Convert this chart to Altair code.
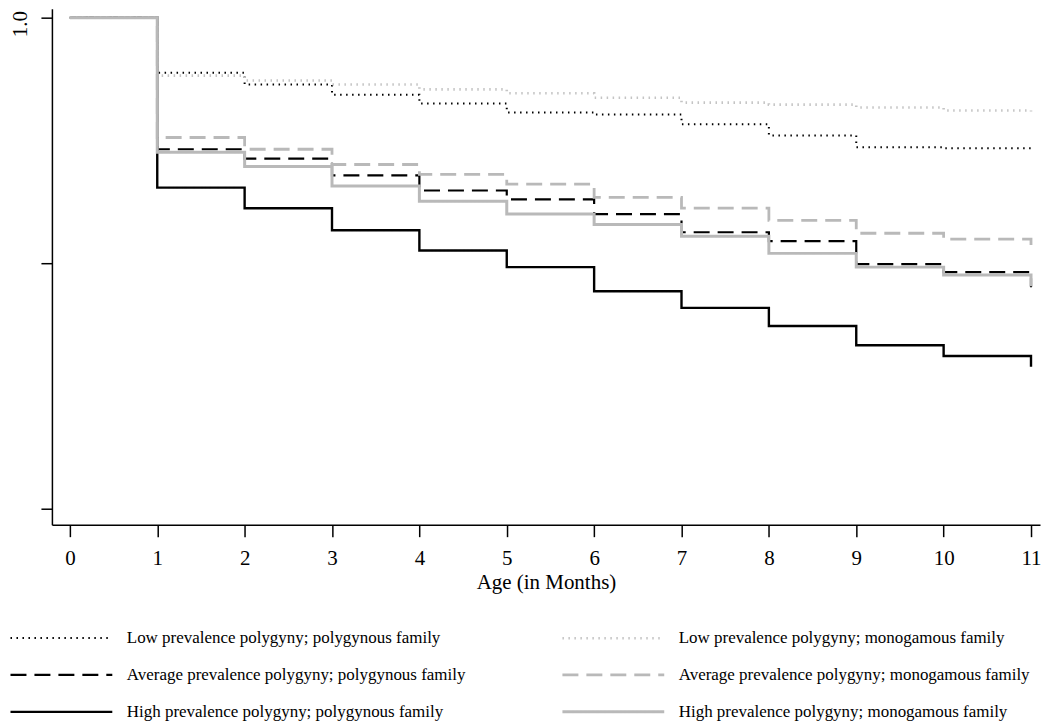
import altair as alt
import pandas as pd

months = list(range(12))

# legend order (column-major: polygynous column, then monogamous column)
series_names = [
    "Low prevalence polygyny; polygynous family",
    "Average prevalence polygyny; polygynous family",
    "High prevalence polygyny; polygynous family",
    "Low prevalence polygyny; monogamous family",
    "Average prevalence polygyny; monogamous family",
    "High prevalence polygyny; monogamous family",
]

low_poly = [1.0, 0.9888, 0.9864, 0.9843, 0.9825, 0.9807, 0.9803, 0.9783, 0.9760, 0.9736, 0.9734, 0.9730]
avg_poly = [1.0, 0.9732, 0.9713, 0.9679, 0.9648, 0.9630, 0.9600, 0.9563, 0.9545, 0.9498, 0.9482, 0.9451]
high_poly = [1.0, 0.9654, 0.9612, 0.9567, 0.9526, 0.9492, 0.9443, 0.9409, 0.9372, 0.9333, 0.9311, 0.9289]
low_mono = [1.0, 0.9882, 0.9872, 0.9864, 0.9854, 0.9846, 0.9837, 0.9827, 0.9823, 0.9817, 0.9811, 0.9809]
avg_mono = [1.0, 0.9756, 0.9732, 0.9701, 0.9681, 0.9661, 0.9634, 0.9612, 0.9587, 0.9561, 0.9549, 0.9537]
high_mono = [1.0, 0.9726, 0.9697, 0.9657, 0.9626, 0.9600, 0.9579, 0.9555, 0.9520, 0.9492, 0.9476, 0.9453]

# drawing order: black first, grey after, high/monogamous on top
draw_order = [
    (series_names[0], low_poly),
    (series_names[1], avg_poly),
    (series_names[2], high_poly),
    (series_names[3], low_mono),
    (series_names[4], avg_mono),
    (series_names[5], high_mono),
]

rows = []
for k, (name, vals) in enumerate(draw_order):
    for m, v in zip(months, vals):
        rows.append({"series": name, "month": m, "surv": v, "ord": k})
df = pd.DataFrame(rows)

colors = ["#000000", "#000000", "#000000", "#c4c4c4", "#b9b9b9", "#b9b9b9"]
dashes = [[1.5, 4.5], [16, 8], [1, 0], [1.5, 4.5], [16, 8], [1, 0]]
widths = [2.0, 3.0, 2.6, 2.0, 3.0, 2.6]

FONT = "Liberation Serif"

legend = alt.Legend(
    title=None,
    orient="none",
    legendX=-2,
    legendY=619,
    columns=2,
    symbolType="M-5.1,0H5.1",
    symbolSize=400,
    labelFont=FONT,
    labelFontSize=17,
    labelColor="black",
    labelOffset=54,
    labelLimit=0,
    columnPadding=90,
    rowPadding=17,
    symbolFillColor="transparent",
)

chart = (
    alt.Chart(df)
    .mark_line(interpolate="step-after", clip=True)
    .encode(
        x=alt.X(
            "month:Q",
            scale=alt.Scale(domain=[-0.2056, 11.103], nice=False, zero=False),
            axis=alt.Axis(
                title="Age (in Months)",
                values=list(range(12)),
                format="d",
                grid=False,
                titleFont=FONT,
                titleFontSize=21,
                titleFontWeight="normal",
                titleColor="black",
                titlePadding=3,
                labelFont=FONT,
                labelFontSize=21,
                labelColor="black",
                labelPadding=11,
                tickSize=12,
                tickColor="black",
                tickWidth=1.5,
                domainColor="black",
                domainWidth=1.5,
            ),
        ),
        y=alt.Y(
            "surv:Q",
            scale=alt.Scale(domain=[0.896748, 1.001829], nice=False, zero=False),
            axis=alt.Axis(
                title=None,
                values=[0.9, 0.95, 1.0],
                labelExpr="datum.value == 1 ? '1.0' : ''",
                grid=False,
                labelFont=FONT,
                labelFontSize=21,
                labelColor="black",
                labelAngle=270,
                labelAlign="center",
                labelBaseline="bottom",
                labelPadding=10,
                labelOffset=6,
                tickSize=11,
                tickColor="black",
                tickWidth=1.5,
                domainColor="black",
                domainWidth=1.5,
                minExtent=44,
                maxExtent=44,
            ),
        ),
        color=alt.Color(
            "series:N",
            scale=alt.Scale(domain=series_names, range=colors),
            legend=legend,
        ),
        strokeDash=alt.StrokeDash(
            "series:N",
            scale=alt.Scale(domain=series_names, range=dashes),
            legend=legend,
        ),
        strokeWidth=alt.StrokeWidth(
            "series:N",
            scale=alt.Scale(domain=series_names, range=widths),
            legend=legend,
        ),
        detail="ord:O",
        order="month:Q",
    )
    .properties(width=990, height=517, padding=0)
    .configure_view(stroke="transparent", strokeWidth=0)
)

chart.save("out.html", embed_options={"renderer": "svg", "actions": False})
